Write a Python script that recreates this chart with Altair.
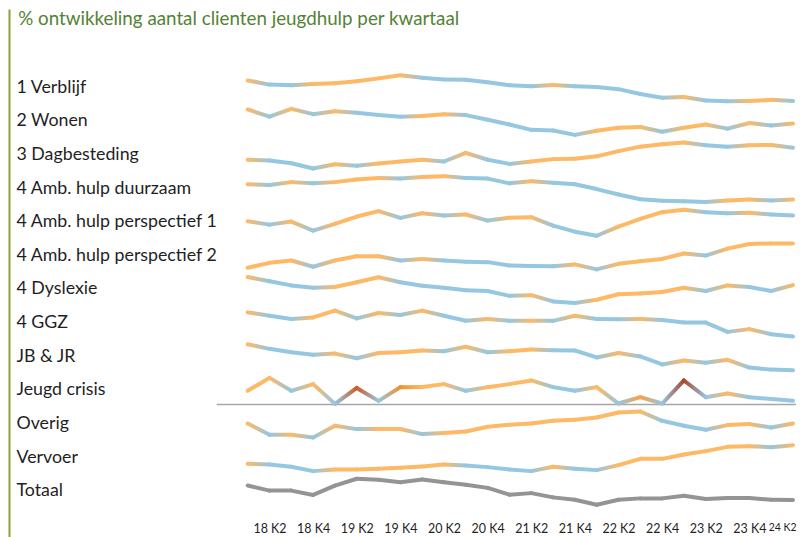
import altair as alt
import pandas as pd

TITLE = "% ontwikkeling aantal clienten jeugdhulp per kwartaal"

QUARTERS = ["18 K1", "18 K2", "18 K3", "18 K4", "19 K1", "19 K2", "19 K3", "19 K4",
            "20 K1", "20 K2", "20 K3", "20 K4", "21 K1", "21 K2", "21 K3", "21 K4",
            "22 K1", "22 K2", "22 K3", "22 K4", "23 K1", "23 K2", "23 K3", "23 K4",
            "24 K1", "24 K2"]
TICK_LABELS = ["18 K2", "18 K4", "19 K2", "19 K4", "20 K2", "20 K4", "21 K2", "21 K4",
               "22 K2", "22 K4", "23 K2", "23 K4", "24 K2"]

ROWS = ["1 Verblijf", "2 Wonen", "3 Dagbesteding", "4 Amb. hulp duurzaam",
        "4 Amb. hulp perspectief 1", "4 Amb. hulp perspectief 2", "4 Dyslexie",
        "4 GGZ", "JB & JR", "Jeugd crisis", "Overig", "Vervoer", "Totaal"]

verblijf = [120.0, 116.0, 115.3, 116.6, 117.3, 119.3, 122.0, 125.0, 122.6, 121.0, 120.6, 118.3, 115.3,
            114.3, 115.6, 114.3, 113.6, 111.6, 107.0, 103.3, 104.0, 100.6, 100.0, 100.1, 101.3, 100.3]
wonen = [127.0, 119.3, 127.6, 122.0, 125.0, 123.6, 121.0, 119.3, 120.0, 122.0, 121.0, 116.0, 111.0,
         105.3, 104.6, 100.0, 104.3, 107.6, 108.3, 103.3, 107.6, 111.0, 106.6, 112.6, 110.0, 112.0]
dagbesteding = [108.4, 107.7, 105.0, 100.0, 104.0, 102.7, 104.7, 106.7, 108.4, 106.7, 115.0, 108.4, 104.4,
                106.7, 109.0, 109.4, 111.7, 116.7, 121.0, 123.4, 125.0, 122.4, 121.0, 122.4, 122.7, 120.0]
amb_duurzaam = [118.7, 118.0, 121.0, 119.7, 121.0, 123.7, 125.3, 124.7, 126.3, 127.3, 125.3, 124.7, 119.7,
                122.0, 120.3, 118.7, 113.7, 108.0, 103.0, 101.3, 101.0, 100.0, 101.7, 102.7, 101.7, 102.7]
amb_persp1 = [114.3, 111.0, 114.0, 105.0, 111.7, 119.0, 124.3, 117.7, 122.3, 120.0, 121.0, 115.0, 117.7,
              118.3, 110.0, 104.0, 100.0, 109.0, 116.7, 123.3, 125.7, 123.3, 122.3, 122.7, 121.0, 120.0]
amb_persp2 = [101.6, 106.6, 109.0, 102.6, 109.0, 113.3, 113.3, 109.0, 110.6, 109.0, 107.6, 107.3, 104.0,
              103.3, 103.1, 105.0, 100.0, 105.6, 108.3, 110.6, 116.0, 114.0, 121.0, 125.6, 126.3, 126.3]
dyslexie = [126.6, 122.3, 118.0, 115.6, 116.3, 121.3, 126.3, 121.3, 117.6, 115.6, 113.0, 112.3, 107.3,
            108.0, 101.6, 100.0, 103.3, 109.0, 109.6, 111.3, 115.6, 112.3, 118.0, 116.3, 112.3, 118.3]
ggz = [124.0, 120.7, 117.4, 119.0, 125.7, 118.0, 123.4, 121.4, 125.7, 120.7, 115.7, 117.4, 115.7,
       115.8, 115.6, 120.7, 117.4, 117.3, 117.5, 116.4, 114.0, 113.9, 104.7, 107.4, 102.4, 100.0]
jb_jr = [125.0, 120.6, 117.3, 115.0, 116.0, 111.6, 116.6, 117.3, 119.0, 118.3, 122.6, 117.3, 118.3,
         120.0, 119.3, 119.0, 112.3, 116.6, 113.3, 105.6, 109.3, 107.3, 110.0, 102.6, 100.6, 100.0]
jeugd_crisis = [17.7, 29.3, 17.7, 23.7, 6.0, 20.3, 8.7, 21.0, 21.2, 23.7, 17.7, 21.0, 23.7,
                27.0, 21.0, 17.7, 21.0, 6.3, 12.0, 6.3, 27.0, 12.0, 15.3, 12.0, 10.3, 8.7]
overig = [114.0, 102.7, 102.8, 100.0, 111.7, 108.4, 108.5, 108.5, 103.4, 104.4, 106.0, 110.7, 112.7,
          114.0, 116.7, 117.7, 120.0, 125.0, 126.0, 116.7, 111.7, 107.7, 112.4, 113.4, 110.0, 114.0]
vervoer = [107.3, 106.7, 104.3, 100.0, 101.7, 101.7, 102.3, 103.3, 104.7, 106.7, 105.7, 104.0, 101.7,
           100.0, 104.3, 102.3, 101.0, 106.0, 112.3, 112.3, 116.7, 120.0, 124.3, 125.0, 124.0, 126.0]
totaal = [119.0, 114.0, 114.0, 109.7, 119.0, 125.7, 124.7, 122.3, 125.0, 122.3, 119.7, 116.7, 110.0,
          111.5, 107.3, 105.0, 100.0, 105.0, 106.3, 106.3, 109.0, 105.7, 106.7, 106.7, 105.0, 104.7]

SERIES = [verblijf, wonen, dagbesteding, amb_duurzaam, amb_persp1, amb_persp2, dyslexie,
          ggz, jb_jr, jeugd_crisis, overig, vervoer, totaal]

# colours
BLUE = "#95C7E1"
LIGHT = "#FDB965"
MEDIUM = "#F8A24A"
BRIGHT = "#F4912F"
DARK = "#CD5E2B"
DARKEST = "#A9482F"
GRAY = "#949494"
GREEN = "#548235"
OLIVE = "#8E9E3C"
TEXT = "#1f1f1f"
FONT = "Lato"

W = 546
H = 26
SPACING = 7.67
TOP = 65.8  # distance from page content top to first panel top


def vertex_colors(vals):
    cols = []
    for i, v in enumerate(vals):
        if i == 0:
            cols.append(LIGHT)
            continue
        p = (v - vals[i - 1]) / vals[i - 1]
        if p < 0:
            cols.append(BLUE)
        elif p >= 3:
            cols.append(DARKEST)
        elif p >= 2:
            cols.append(DARK)
        elif p >= 1.2:
            cols.append(BRIGHT)
        elif p >= 0.8:
            cols.append(MEDIUM)
        else:
            cols.append(LIGHT)
    return cols


def make_row(idx, name, vals):
    is_total = name == "Totaal"
    cols = [GRAY] * len(vals) if is_total else vertex_colors(vals)
    recs = []
    for i in range(len(vals) - 1):
        c1, c2 = cols[i], cols[i + 1]
        if vals[i] == vals[i + 1]:
            c1 = c2
        key = c1 + "|" + c2
        recs.append({"seg": i, "q": QUARTERS[i], "v": vals[i], "pair": key})
        recs.append({"seg": i, "q": QUARTERS[i + 1], "v": vals[i + 1], "pair": key})
    df = pd.DataFrame(recs)

    if is_total:
        last = TICK_LABELS[-1]
        xaxis = alt.Axis(values=TICK_LABELS, labelAngle=0, domain=False, ticks=False,
                         grid=False, title=None, labelFont=FONT,
                         labelFontSize={"condition": {"test": f"datum.value == '{last}'", "value": 10.5},
                                        "value": 12.5},
                         labelColor=TEXT, labelPadding=18, labelFlush=True,
                         labelFlushOffset=3)
    else:
        xaxis = None
    x = alt.X("q:N", scale=alt.Scale(type="point", domain=QUARTERS, padding=0), axis=xaxis)
    y = alt.Y("v:Q", scale=alt.Scale(zero=False, nice=False),
              axis=alt.Axis(title=name, labels=False, ticks=False, domain=False, grid=False,
                            titleAngle=0, titleAlign="left", titleBaseline="middle",
                            titleX=-232, titleY=H / 2 - 1, titleFont=FONT,
                            titleFontSize=17.8, titleFontWeight="normal", titleColor=TEXT))

    layers = []
    if name == "Jeugd crisis":
        layers.append(
            alt.Chart(pd.DataFrame({"a": [0]})).mark_rule(color="#A6A6A6", strokeWidth=1.5)
            .encode(x=alt.value(-31), x2=alt.value(W + 3), y=alt.value(H + 0.7))
        )
    for key in dict.fromkeys(df["pair"]):
        c1, c2 = key.split("|")
        if c1 == c2:
            color = c1
        else:
            color = alt.LinearGradient(
                gradient="linear",
                stops=[alt.GradientStop(offset=0, color=c1), alt.GradientStop(offset=1, color=c2)],
                x1=0, x2=1, y1=0, y2=0)
        layers.append(
            alt.Chart().mark_line(strokeWidth=4, strokeCap="round", strokeJoin="round", color=color)
            .encode(x=x, y=y, detail="seg:N")
            .transform_filter(alt.datum.pair == key)
        )
    if idx == 0:
        layers.append(
            alt.Chart(pd.DataFrame({"a": [0]})).mark_rule(color=OLIVE, strokeWidth=2)
            .encode(x=alt.value(-238.5), y=alt.value(-TOP), y2=alt.value(463))
        )
        layers.append(
            alt.Chart(pd.DataFrame({"t": [TITLE]}))
            .mark_text(align="left", baseline="top", font=FONT, fontSize=18.8, color=GREEN)
            .encode(x=alt.value(-229.8), y=alt.value(-TOP), text="t:N")
        )
    return alt.layer(*layers, data=df).properties(width=W, height=H)


rows = [make_row(i, n, s) for i, (n, s) in enumerate(zip(ROWS, SERIES))]

chart = (
    alt.vconcat(*rows, spacing=SPACING, bounds="flush", padding=0)
    .configure_view(stroke=None, strokeWidth=0)
)

chart.save("out.html", embed_options={"renderer": "svg", "actions": False})
